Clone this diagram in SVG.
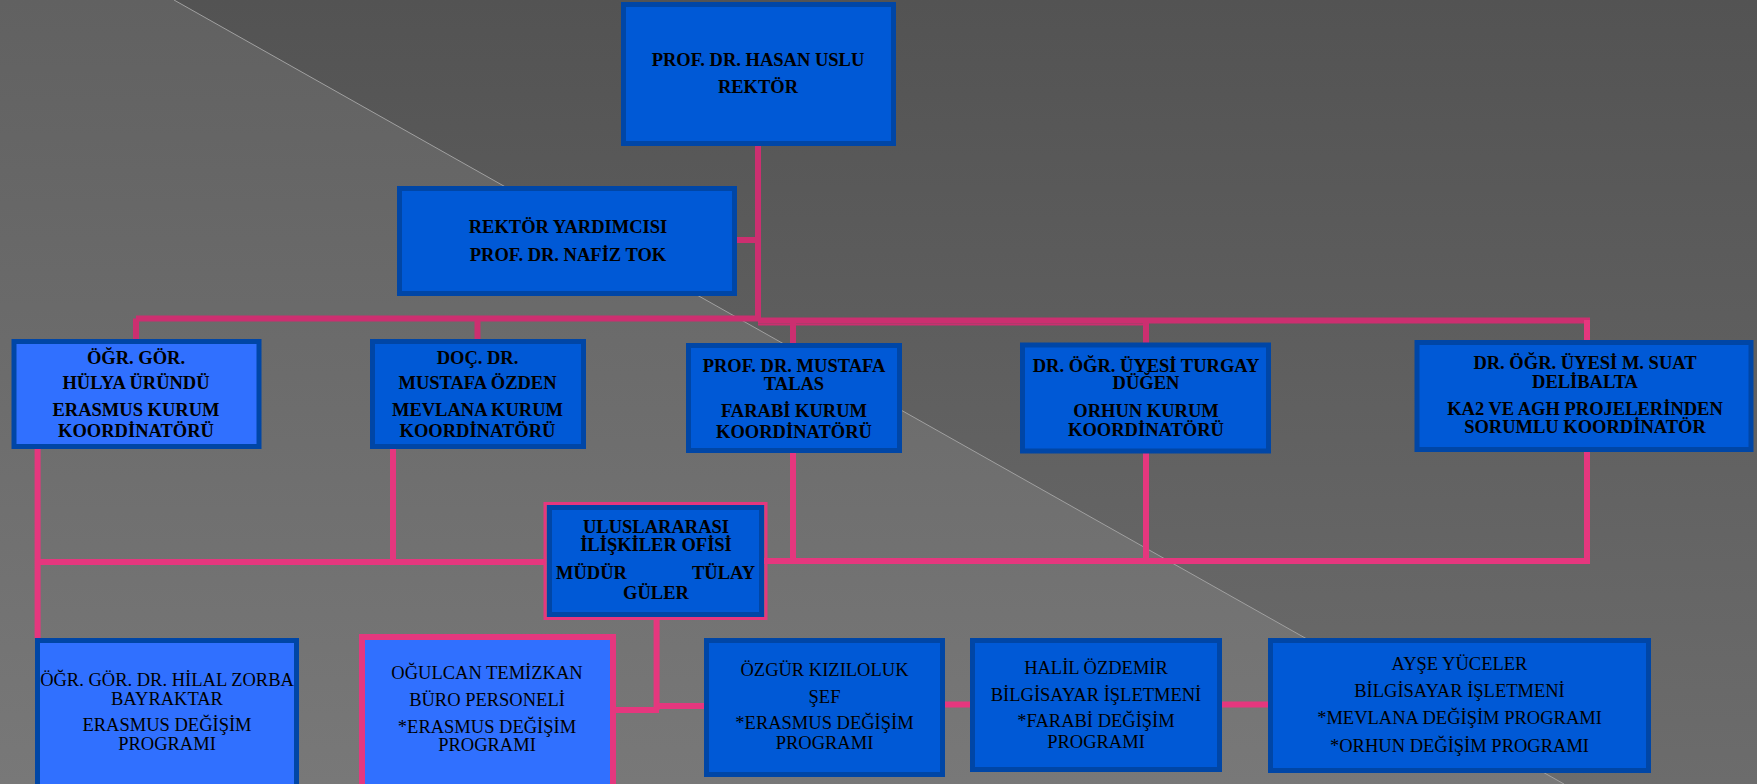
<svg xmlns="http://www.w3.org/2000/svg" width="1757" height="784" viewBox="0 0 1757 784">
<defs>
<linearGradient id="bgA" x1="0" y1="0" x2="0" y2="1">
<stop offset="0" stop-color="#535353"/>
<stop offset="1" stop-color="#6c6c6c"/>
</linearGradient>
<linearGradient id="bgB" x1="0" y1="0" x2="0" y2="1">
<stop offset="0" stop-color="#616161"/>
<stop offset="1" stop-color="#787878"/>
</linearGradient>
<style>
.box{fill:#0059d6;stroke:#0046a6;stroke-width:5}
.lt{fill:#3070ff}
.t{font-family:"Liberation Serif","Times New Roman",serif;font-size:18.5px;fill:#000;text-anchor:middle}
.b{font-weight:bold}
.c1{stroke:#cc2f70;stroke-width:6;fill:none}
.c2{stroke:#e5377e;stroke-width:6;fill:none}
</style>
</defs>
<rect x="0" y="0" width="1757" height="784" fill="url(#bgA)"/>
<polygon points="0,0 174,0 1564,784 0,784" fill="url(#bgB)"/>
<line x1="174" y1="0" x2="1564" y2="784" stroke="#a0a0a0" stroke-width="1"/>

<g id="connectors">
<path class="c1" d="M758,146 V321 M737,240 H758 M136,318.5 H758 M136,318.5 V339 M477.5,318.5 V339 M758,320.5 H1590 M793,320.5 V343 M1146,320.5 V343"/>
<path stroke="#cc2f70" stroke-width="2" fill="none" d="M758,324.5 H1146"/>
<path class="c2" d="M1587,320 V564 M37.6,449 V638 M393,449 V562 M37.6,562 H546 M764,561 H1590 M793,453 V561 M1146,453 V561"/>
<path class="c2" d="M656.6,617 V710" stroke-width="5"/>
<path class="c2" d="M616,710 H659" stroke-width="4"/>
<path class="c2" d="M656,706 H704" stroke-width="7"/>
<path class="c2" d="M945,704.5 H970 M1222,704.5 H1268" stroke-width="5"/>
</g>

<g id="rektor">
<rect class="box" x="623.5" y="4.5" width="270" height="139"/>
<text class="t b" x="758" y="65.5">PROF. DR. HASAN USLU</text>
<text class="t b" x="758" y="93">REKTÖR</text>
</g>
<g id="rektor-yardimcisi">
<rect class="box" x="399.5" y="188.5" width="335" height="105"/>
<text class="t b" x="568" y="233">REKTÖR YARDIMCISI</text>
<text class="t b" x="568" y="261">PROF. DR. NAFİZ TOK</text>
</g>
<g id="erasmus-koordinator">
<rect class="box lt" x="14" y="341.5" width="245" height="105"/>
<text class="t b" x="136" y="364">ÖĞR. GÖR.</text>
<text class="t b" x="136" y="389">HÜLYA ÜRÜNDÜ</text>
<text class="t b" x="136" y="416">ERASMUS KURUM</text>
<text class="t b" x="136" y="437">KOORDİNATÖRÜ</text>
</g>
<g id="mevlana-koordinator">
<rect class="box" x="372.5" y="341.5" width="211" height="105"/>
<text class="t b" x="477.5" y="364">DOÇ. DR.</text>
<text class="t b" x="477.5" y="389">MUSTAFA ÖZDEN</text>
<text class="t b" x="477.5" y="416">MEVLANA KURUM</text>
<text class="t b" x="477.5" y="437">KOORDİNATÖRÜ</text>
</g>
<g id="farabi-koordinator">
<rect class="box" x="688.5" y="345.5" width="211" height="105"/>
<text class="t b" x="794" y="372">PROF. DR. MUSTAFA</text>
<text class="t b" x="794" y="390">TALAS</text>
<text class="t b" x="794" y="417">FARABİ KURUM</text>
<text class="t b" x="794" y="438">KOORDİNATÖRÜ</text>
</g>
<g id="orhun-koordinator">
<rect class="box" x="1022.5" y="345" width="246" height="106"/>
<text class="t b" x="1146" y="372">DR. ÖĞR. ÜYESİ TURGAY</text>
<text class="t b" x="1146" y="389">DÜĞEN</text>
<text class="t b" x="1146" y="417">ORHUN KURUM</text>
<text class="t b" x="1146" y="436">KOORDİNATÖRÜ</text>
</g>
<g id="ka2-koordinator">
<rect class="box" x="1417" y="342.5" width="334" height="107"/>
<text class="t b" x="1585" y="369">DR. ÖĞR. ÜYESİ M. SUAT</text>
<text class="t b" x="1585" y="388">DELİBALTA</text>
<text class="t b" x="1585" y="415">KA2 VE AGH PROJELERİNDEN</text>
<text class="t b" x="1585" y="433">SORUMLU KOORDİNATÖR</text>
</g>
<g id="uluslararasi-iliskiler">
<rect x="545" y="503.5" width="221" height="115" fill="none" stroke="#e5377e" stroke-width="3"/>
<rect class="box" x="549.5" y="507.5" width="212" height="107"/>
<text class="t b" x="656" y="533">ULUSLARARASI</text>
<text class="t b" x="656" y="551">İLİŞKİLER OFİSİ</text>
<text class="t b" x="556" y="579" style="text-anchor:start">MÜDÜR</text>
<text class="t b" x="755" y="579" style="text-anchor:end">TÜLAY</text>
<text class="t b" x="656" y="599">GÜLER</text>
</g>
<g id="hilal-zorba-bayraktar">
<rect class="box lt" x="37.5" y="640.5" width="259" height="150"/>
<text class="t" x="167" y="686">ÖĞR. GÖR. DR. HİLAL ZORBA</text>
<text class="t" x="167" y="705">BAYRAKTAR</text>
<text class="t" x="167" y="731">ERASMUS DEĞİŞİM</text>
<text class="t" x="167" y="750">PROGRAMI</text>
</g>
<g id="ogulcan-temizkan">
<rect x="362" y="637" width="251" height="155" fill="#3070ff" stroke="#e5377e" stroke-width="6"/>
<text class="t" x="487" y="679">OĞULCAN TEMİZKAN</text>
<text class="t" x="487" y="706">BÜRO PERSONELİ</text>
<text class="t" x="487" y="733">*ERASMUS DEĞİŞİM</text>
<text class="t" x="487" y="751">PROGRAMI</text>
</g>
<g id="ozgur-kiziloluk">
<rect class="box" x="706.5" y="640.5" width="236" height="134"/>
<text class="t" x="824.5" y="676">ÖZGÜR KIZILOLUK</text>
<text class="t" x="824.5" y="703">ŞEF</text>
<text class="t" x="824.5" y="729">*ERASMUS DEĞİŞİM</text>
<text class="t" x="824.5" y="749">PROGRAMI</text>
</g>
<g id="halil-ozdemir">
<rect class="box" x="972.5" y="640.5" width="247" height="129"/>
<text class="t" x="1096" y="674">HALİL ÖZDEMİR</text>
<text class="t" x="1096" y="701">BİLGİSAYAR İŞLETMENİ</text>
<text class="t" x="1096" y="727">*FARABİ DEĞİŞİM</text>
<text class="t" x="1096" y="748">PROGRAMI</text>
</g>
<g id="ayse-yuceler">
<rect class="box" x="1270.5" y="640.5" width="378" height="130"/>
<text class="t" x="1459.5" y="670">AYŞE YÜCELER</text>
<text class="t" x="1459.5" y="697">BİLGİSAYAR İŞLETMENİ</text>
<text class="t" x="1459.5" y="724">*MEVLANA DEĞİŞİM PROGRAMI</text>
<text class="t" x="1459.5" y="752">*ORHUN DEĞİŞİM PROGRAMI</text>
</g>
</svg>
